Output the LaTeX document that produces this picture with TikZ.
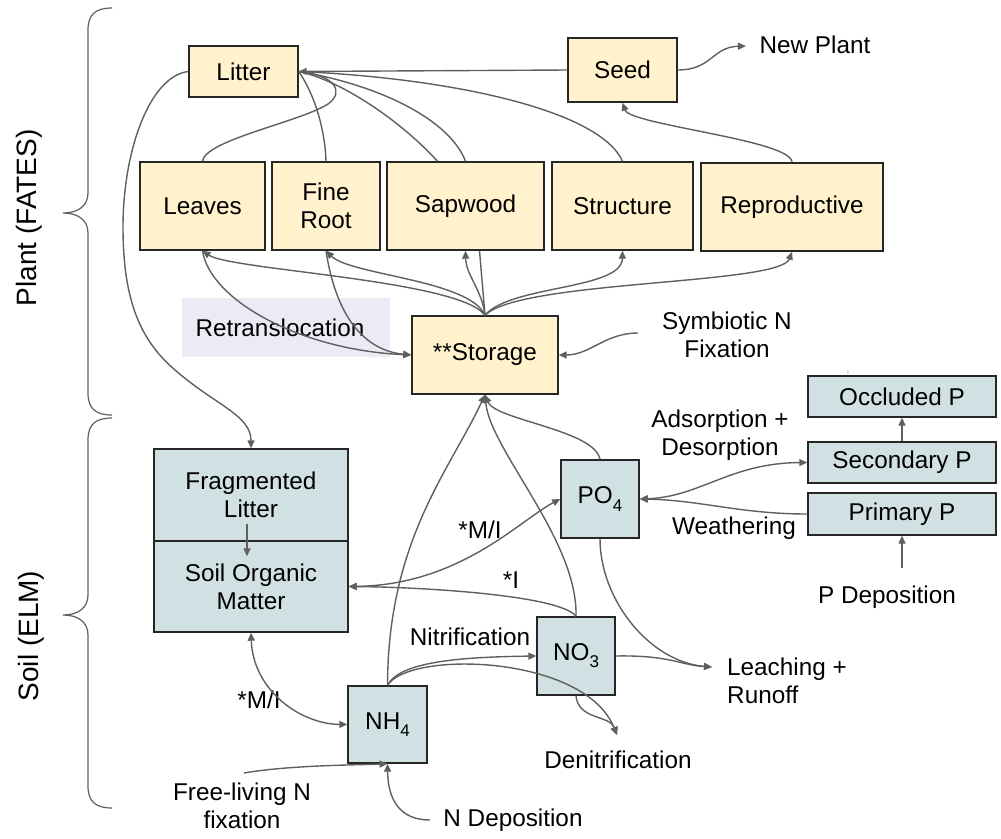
\documentclass[tikz,border=0pt]{standalone}
\usepackage{fontspec}
\setmainfont{Liberation Sans}
\usetikzlibrary{arrows.meta,calc}
\definecolor{ybox}{HTML}{FFF2CC}
\definecolor{bbox}{HTML}{D0E0E3}
\definecolor{lgray}{HTML}{5F5F5F}
\definecolor{retbg}{RGB}{236,235,245}
\definecolor{bord}{HTML}{262626}
\newcommand{\lowsub}[1]{\raisebox{-0.55ex}{\fontsize{17}{17}\selectfont #1}}
\begin{document}
\begin{tikzpicture}[x=1pt,y=-1pt,
  every node/.style={font=\fontsize{24.3}{28}\selectfont},
  ybx/.style={draw=bord,line width=1.4pt,fill=ybox,align=center,inner sep=0pt},
  bbx/.style={draw=bord,line width=1.4pt,fill=bbox,align=center,inner sep=0pt},
  lbl/.style={align=center,inner sep=1pt},
  side/.style={inner sep=1pt,rotate=90,font=\fontsize{28}{32}\selectfont},
  arr/.style={draw=lgray,line width=1.4pt,-{Triangle[length=8pt,width=7pt]}},
  ln/.style={draw=lgray,line width=1.4pt},
  dbl/.style={draw=lgray,line width=1.4pt,{Triangle[length=8pt,width=7pt]}-{Triangle[length=8pt,width=7pt]}},
  brc/.style={draw=lgray,line width=1.2pt}]
\useasboundingbox (0,0) rectangle (1001,838);

% ---------- background for retranslocation label
\fill[retbg] (182,298) rectangle (390,357);

% ---------- plant boxes
\node[ybx,minimum width=109pt,minimum height=51pt] (Lit) at (243.5,71.5) {Litter};
\node[ybx,minimum width=109pt,minimum height=64pt] (Seed) at (622.5,70) {Seed};
\node[ybx,minimum width=125pt,minimum height=88pt] (Lv) at (202.5,206) {Leaves};
\node[ybx,minimum width=108pt,minimum height=88pt] (FR) at (326,206) {Fine\\Root};
\node[ybx,minimum width=157pt,minimum height=88pt] (Sap) at (465.5,206) {Sapwood};
\node[ybx,minimum width=141pt,minimum height=88pt] (Str) at (622.5,206) {Structure};
\node[ybx,minimum width=182pt,minimum height=88pt] (Rep) at (792,207) {Reproductive};
\node[ybx,minimum width=146pt,minimum height=78pt] (Sto) at (485,355) {**Storage};

% ---------- soil boxes
\node[bbx,minimum width=194pt,minimum height=92pt] (FL) at (251,495) {Fragmented\\Litter};
\node[bbx,minimum width=194pt,minimum height=91pt] (SOM) at (251,586.5) {Soil Organic\\Matter};
\node[bbx,minimum width=78pt,minimum height=78pt] (PO) at (600,499) {PO\lowsub{4}};
\node[bbx,minimum width=188pt,minimum height=41pt] (Occ) at (902,396.5) {Occluded P};
\node[bbx,minimum width=188pt,minimum height=41pt] (Sec) at (902,462.5) {Secondary P};
\node[bbx,minimum width=188pt,minimum height=42pt] (Pri) at (902,514) {Primary P};
\node[bbx,minimum width=78pt,minimum height=78pt] (NO) at (576,656) {NO\lowsub{3}};
\node[bbx,minimum width=79pt,minimum height=77pt] (NH) at (387.5,724.5) {NH\lowsub{4}};

% ---------- text labels
\node[lbl] (tNP) at (815,45) {New Plant};
\node[lbl] (tSym) at (727,335) {Symbiotic N\\Fixation};
\node[lbl] (tRet) at (280,328) {Retranslocation};
\node[lbl] (tAds) at (720,435) {Adsorption +\\Desorption};
\node[lbl] (tWea) at (734,528) {Weathering};
\node[lbl] (tPD) at (887,597) {P Deposition};
\node[lbl] (tMI1) at (480,530) {*M/I};
\node[lbl] (tI) at (511,580) {*I};
\node[lbl] (tNit) at (470,637) {Nitrification};
\node[lbl,align=left,anchor=west] (tLeach) at (726,681) {Leaching +\\Runoff};
\node[lbl] (tDen) at (618,760) {Denitrification};
\node[lbl] (tMI2) at (259,700) {*M/I};
\node[lbl] (tFree) at (242,806) {Free-living N\\fixation};
\node[lbl] (tND) at (513,820) {N Deposition};
\node[side] (tPlant) at (29,218) {Plant (FATES)};
\node[side] (tSoil) at (31,636) {Soil (ELM)};
\node[inner sep=0pt,font=\fontsize{4}{4}\selectfont,text=gray] (t2) at (848,372) {2};

% ---------- free ends
\coordinate (cNP) at (746,46);
\coordinate (cSym) at (638,333);
\coordinate (cLeach) at (712,667);
\coordinate (cDen) at (617,735);
\coordinate (cPD) at (902,568);
\coordinate (cFree) at (244,773);
\coordinate (cND) at (430,820);

% ---------- braces
\draw[brc] (112,8) .. controls (96,8) and (88,14) .. (88,30) -- (88,193)
  .. controls (88,206) and (78,213) .. (63,213) .. controls (78,213) and (88,220) .. (88,233)
  -- (88,393) .. controls (88,409) and (96,415) .. (112,415);
\draw[brc] (112,418) .. controls (96,418) and (88,424) .. (88,440) -- (88,595)
  .. controls (88,608) and (78,615) .. (63,615) .. controls (78,615) and (88,622) .. (88,635)
  -- (88,786) .. controls (88,802) and (96,808) .. (112,808);

% ---------- plant connectors
\draw[arr] (Seed.west) -- (Lit.east);
\draw[arr] (Seed.east) .. controls (712,70) and (712,47) .. (cNP);
\draw[arr] (Rep.north) .. controls (792,140) and (630,125) .. (Seed.south);
\draw[ln] (Lv.north) .. controls (205,140) and (300,122) .. (328,104)
  .. controls (345,92) and (335,75) .. (Lit.east);
\draw[ln] (FR.north) .. controls (325,130) and (315,95) .. (Lit.east);
\draw[ln] ($(Sap.north)+(-28,0)$) .. controls (400,120) and (340,80) .. (Lit.east);
\draw[ln] (Sap.north) .. controls (450,120) and (380,85) .. (Lit.east);
\draw[ln] (Str.north) .. controls (600,110) and (450,78) .. (Lit.east);

\draw[arr] (Sto.north) .. controls (460,280) and (230,270) .. (Lv.south);
\draw[arr] (Sto.north) .. controls (470,280) and (350,275) .. (FR.south);
\draw[arr] (Sto.north) .. controls (482,290) and (466,275) .. (Sap.south);
\draw[ln] ($(Sap.south)+(14,0)$) -- (Sto.north);
\draw[arr] (Sto.north) .. controls (510,285) and (622,290) .. (Str.south);
\draw[arr] (Sto.north) .. controls (520,280) and (780,285) .. (Rep.south);

\draw[arr] (Lv.south) .. controls (210,300) and (300,350) .. (Sto.west);
\draw[arr] (FR.south) .. controls (335,310) and (360,350) .. (Sto.west);
\draw[arr] (cSym) .. controls (605,333) and (590,355) .. (Sto.east);

% ---------- litter to soil
\draw[arr] (Lit.west) .. controls (150,76) and (123,150) .. (123,227)
  .. controls (123,300) and (140,340) .. (175,370)
  .. controls (215,405) and (251,415) .. (FL.north);
\draw[arr] ($(FL.south)+(-4,-18)$) -- ($(SOM.north)+(-4,16)$);

% ---------- soil connectors
\draw[dbl] (SOM.east) .. controls (460,585) and (520,520) .. (PO.west);
\draw[arr] (NO.north) .. controls (560,595) and (420,587) .. (SOM.east);
\draw[arr] (NO.north) .. controls (578,540) and (490,450) .. (Sto.south);
\draw[arr] (NH.north) .. controls (388,540) and (450,470) .. (Sto.south);
\draw[arr] (PO.north) .. controls (595,430) and (495,420) .. (Sto.south);
\draw[dbl] (PO.east) .. controls (700,497) and (730,463) .. (Sec.west);
\draw[arr] (Pri.west) .. controls (740,514) and (700,500) .. (PO.east);
\draw[arr] (Sec.north) -- (Occ.south);
\draw[arr] (cPD) -- (Pri.south);
\draw[arr] (PO.south) .. controls (600,600) and (650,662) .. (cLeach);
\draw[arr] (NO.east) .. controls (670,655) and (680,665) .. (cLeach);
\draw[arr] (NH.north) .. controls (400,660) and (470,657) .. (NO.west);
\draw[arr] (NH.north) .. controls (410,650) and (585,655) .. (cDen);
\draw[arr] (NO.south) .. controls (578,720) and (610,715) .. (cDen);
\draw[dbl] (SOM.south) .. controls (253,690) and (300,724) .. (NH.west);
\draw[arr] (cFree) .. controls (290,765) and (360,765) .. (NH.south);
\draw[arr] (cND) .. controls (400,820) and (388,800) .. (NH.south);
\end{tikzpicture}
\end{document}
